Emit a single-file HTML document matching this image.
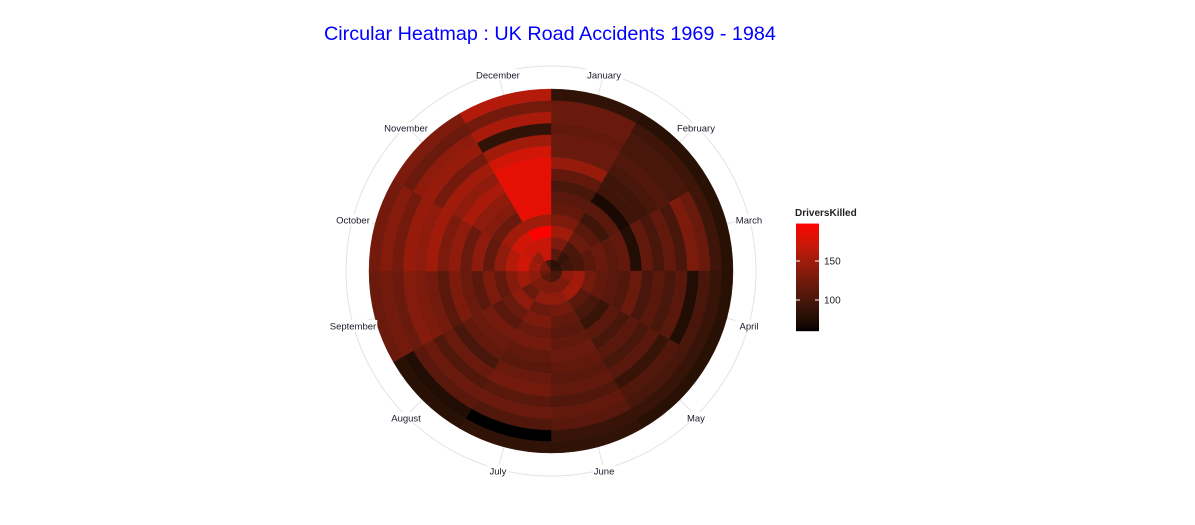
<!DOCTYPE html>
<html><head><meta charset="utf-8"><style>
html,body{margin:0;padding:0;background:#fff;}
svg{display:block;font-family:"Liberation Sans",sans-serif;}
</style></head><body>
<svg id="chart" width="1195" height="525">
<text x="324" y="40" font-size="19.8" fill="#0000ff">Circular Heatmap : UK Road Accidents 1969 - 1984</text>
<g id="grid"></g>
<g id="cells"></g>
<g id="labels"></g>
<g id="legend">
<text x="795" y="216" font-size="10" font-weight="bold" fill="#222">DriversKilled</text>
</g>
</svg>
<script>
const months = ["January","February","March","April","May","June","July","August","September","October","November","December"];
const years = [1969,1970,1971,1972,1973,1974,1975,1976,1977,1978,1979,1980,1981,1982,1983,1984];
const killed = [
[80,80,85,100,100,100,110,110,120,130,130,100],
[110,90,95,140,130,130,130,130,140,150,145,170],
[130,100,100,150,150,140,140,120,150,175,170,170],
[150,120,110,125,110,125,120,140,135,160,175,198],
[130,110,120,115,100,115,130,120,115,140,150,150],
[115,95,110,110,90,110,120,110,130,115,120,185],
[110,110,115,105,110,115,125,125,110,140,135,185],
[100,70,75,120,100,120,115,120,120,120,140,185],
[115,95,115,100,110,115,110,115,130,140,155,185],
[145,95,100,110,100,110,120,100,110,130,140,185],
[120,100,115,100,110,115,125,120,125,150,150,175],
[120,105,100,110,90,105,110,105,130,140,125,150],
[115,100,130,75,105,115,120,120,135,145,145,85],
[120,100,120,100,100,110,105,110,120,125,140,155],
[120,95,95,90,90,90,60,75,125,135,120,125],
[85,80,80,80,80,85,85,80,120,125,130,160]
];
const legendTicks = [100,150];
const vmin = 60, vmax = 198;
const cx = 551, cy = 271, R = 182, labelR = 205;
const NS = "http://www.w3.org/2000/svg";
function mk(tag, attrs, parent){const e=document.createElementNS(NS,tag);for(const k in attrs)e.setAttribute(k,attrs[k]);parent.appendChild(e);return e;}
function labToRgb(L,a,b){
  let fy=(L+16)/116, fx=fy+a/500, fz=fy-b/200;
  const f=t=>t>0.206893?t*t*t:(t-16/116)/7.787;
  let X=0.95047*f(fx),Y=f(fy),Z=1.08883*f(fz);
  let r=3.2406*X-1.5372*Y-0.4986*Z, g=-0.9689*X+1.8758*Y+0.0415*Z, bb=0.0557*X-0.2040*Y+1.0570*Z;
  const c=v=>{v=v<=0.0031308?12.92*v:1.055*Math.pow(v,1/2.4)-0.055;return Math.max(0,Math.min(255,Math.round(v*255)));};
  return `rgb(${c(r)},${c(g)},${c(bb)})`;
}
function color(v){let t=(v-vmin)/(vmax-vmin);t=Math.max(0,Math.min(1,t));return labToRgb(53.24*t,80.09*t,67.20*t);}
const rScale = i => R*i/years.length;
const aScale = m => m*2*Math.PI/months.length;
function pt(r,a){return [cx+r*Math.sin(a), cy-r*Math.cos(a)];}
const grid=document.getElementById('grid');
const gc=mk('circle',{cx:cx,cy:cy,r:labelR,fill:'none',stroke:'#e3e3e3','stroke-width':1},grid);


months.forEach((m,i)=>{
  const a=aScale(i+0.5);const [x1,y1]=pt(R,a);const [x2,y2]=pt(labelR,a);
  const l=mk('line',{x1:x1,y1:y1,x2:x2,y2:y2,stroke:'#e3e3e3','stroke-width':1},grid);
  
  
});
const cells=document.getElementById('cells');
years.forEach((y,yi)=>{
  months.forEach((m,mi)=>{
    const r0=rScale(yi), r1=rScale(yi+1), a0=aScale(mi), a1=aScale(mi+1);
    const [ax,ay]=pt(r1,a0),[bx,by]=pt(r1,a1),[cx2,cy2]=pt(r0,a1),[dx,dy]=pt(r0,a0);
    const d=`M${ax},${ay} A${r1},${r1} 0 0 1 ${bx},${by} L${cx2},${cy2} A${r0},${r0} 0 0 0 ${dx},${dy} Z`;
    const p=mk('path',{d:d,fill:color(killed[yi][mi]),stroke:color(killed[yi][mi]),'stroke-width':0.4},cells);
    
    
  });
});
const labels=document.getElementById('labels');
months.forEach((m,i)=>{
  const [x,y]=pt(labelR,aScale(i+0.5));
  const bg=mk('rect',{x:x-m.length*2.7,y:y-4,width:m.length*5.4,height:11,fill:'#fff'},labels);
  
  
  const t=mk('text',{x:x,y:y+5.5,'font-size':9.5,'text-anchor':'middle',fill:'#1a1a2a'},labels);
  t.textContent=m;
  
  
});
const legend=document.getElementById('legend');
const ly=v=>261-(v-150)*0.78;
const defs=mk('defs',{},legend);
const grad=mk('linearGradient',{id:'lg',x1:0,y1:1,x2:0,y2:0},defs);
for(let k=0;k<=20;k++){const v=vmin+(vmax-vmin)*k/20;mk('stop',{offset:k/20,'stop-color':color(v)},grad);}
const bar=mk('rect',{x:796,y:ly(vmax),width:23,height:ly(vmin)-ly(vmax),fill:'url(#lg)'},legend);


legendTicks.forEach(v=>{
  const y=ly(v);
  mk('line',{x1:796,x2:800,y1:y,y2:y,stroke:'#fff','stroke-width':1},legend);
  mk('line',{x1:815,x2:819,y1:y,y2:y,stroke:'#fff','stroke-width':1},legend);
  const t=mk('text',{x:824,y:y+3.5,'font-size':10,fill:'#222'},legend);
  t.textContent=v;
  
  
});
</script>
</body></html>
